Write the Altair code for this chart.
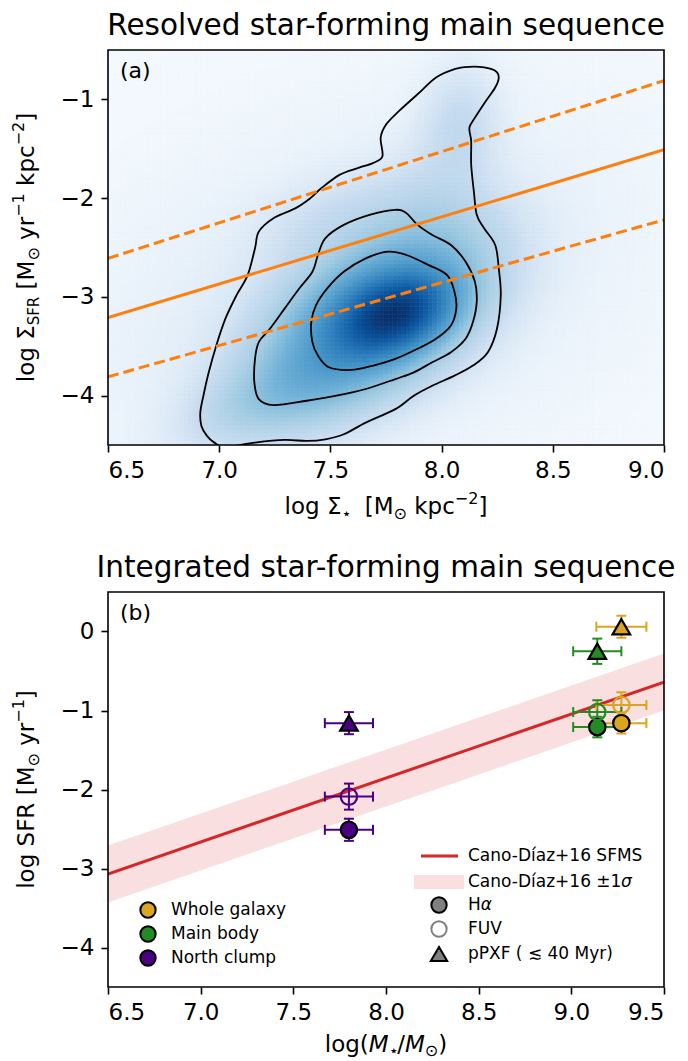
import altair as alt
import numpy as np
import pandas as pd

alt.data_transformers.disable_max_rows()

FONT = "DejaVu Sans"
W, H = 556, 395          # plot area of each panel (px)
GAP = 147                # vertical distance between the two plot areas
TICK_FS, TITLE_FS, LAB_FS, LEG_FS = 23, 29.5, 23, 17
XLAB_OFF = 66            # baseline of x-axis titles below the plot area

# ---------------------------------------------------------------------------
# Panel (a): resolved star-forming main sequence
# ---------------------------------------------------------------------------
# spaxel density described by tilted Gaussian components
comp_x = [7.80, 7.70, 7.35, 7.90, 8.08, 7.60, 7.08, 7.45]
comp_y = [-3.18, -3.20, -3.95, -2.20, -1.25, -3.00, -4.15, -2.25]
comp_sx = [0.16, 0.30, 0.22, 0.22, 0.12, 0.85, 0.20, 0.20]
comp_sy = [0.26, 0.52, 0.32, 0.40, 0.42, 1.30, 0.30, 0.30]
comp_rho = [0.30, 0.45, 0.30, 0.10, 0.10, 0.35, 0.50, 0.30]
comp_w = [0.55, 0.55, 0.12, 0.07, 0.08, 0.04, 0.06, 0.04]

# density contours (outer, middle, inner)
outer_x = [6.978, 7.028, 7.161, 7.294, 7.394, 7.477, 7.560, 7.659, 7.792, 7.875,
           7.958, 8.058, 8.141, 8.208, 8.249, 8.266, 8.257, 8.241, 8.191, 8.158,
           8.145, 8.133, 8.133, 8.125, 8.150, 8.199, 8.241, 8.257, 8.241, 8.191,
           8.125, 8.058, 7.975, 7.892, 7.809, 7.751, 7.726, 7.734, 7.693, 7.626,
           7.543, 7.460, 7.410, 7.344, 7.244, 7.178, 7.161, 7.128, 7.078, 7.028,
           6.987, 6.953, 6.929, 6.915, 6.920, 6.945]
outer_y = [-4.476, -4.52, -4.476, -4.449, -4.459, -4.442, -4.391, -4.273, -4.137, -4.001,
           -3.900, -3.798, -3.696, -3.560, -3.323, -2.983, -2.712, -2.475, -2.305, -2.169,
           -1.932, -1.660, -1.423, -1.287, -1.185, -1.016, -0.880, -0.778, -0.710, -0.676,
           -0.670, -0.693, -0.778, -0.948, -1.117, -1.253, -1.389, -1.575, -1.643, -1.694,
           -1.762, -1.898, -2.000, -2.101, -2.203, -2.339, -2.508, -2.780, -2.983, -3.221,
           -3.492, -3.764, -4.001, -4.171, -4.307, -4.408]
middle_x = [7.792, 7.842, 7.892, 7.958, 8.042, 8.108, 8.150, 8.158, 8.141, 8.108,
            8.042, 7.958, 7.875, 7.792, 7.659, 7.527, 7.394, 7.244, 7.178, 7.158,
            7.161, 7.178, 7.228, 7.294, 7.360, 7.419, 7.444, 7.477, 7.560, 7.676]
middle_y = [-2.118, -2.152, -2.271, -2.373, -2.475, -2.644, -2.848, -3.051, -3.255, -3.424,
            -3.560, -3.662, -3.764, -3.832, -3.933, -4.001, -4.052, -4.096, -4.035, -3.866,
            -3.628, -3.458, -3.323, -3.119, -2.916, -2.746, -2.576, -2.407, -2.271, -2.169]
inner_x = [7.759, 7.842, 7.942, 8.025, 8.058, 8.066, 8.042, 7.975, 7.892, 7.792,
           7.693, 7.593, 7.493, 7.444, 7.419, 7.414, 7.435, 7.485, 7.560, 7.659]
inner_y = [-2.542, -2.576, -2.678, -2.780, -2.950, -3.119, -3.289, -3.424, -3.526, -3.628,
           -3.696, -3.740, -3.713, -3.594, -3.458, -3.255, -3.085, -2.916, -2.746, -2.610]

# fitted resolved main sequence and its scatter
ms_x = [6.5, 9.0]
ms_fit = [-3.21, -1.51]
ms_upper = [-2.61, -0.81]
ms_lower = [-3.81, -2.22]

# ---------------------------------------------------------------------------
# Panel (b): integrated star-forming main sequence
# ---------------------------------------------------------------------------
regions = ["Whole galaxy", "Main body", "North clump"]
region_colors = ["#DAA520", "#228B22", "#4B0082"]
log_mass = [9.27, 9.14, 7.80]
log_mass_err = [0.135, 0.13, 0.13]
sfr_halpha = [-1.16, -1.21, -2.51]
sfr_halpha_err = [0.13, 0.13, 0.14]
sfr_fuv = [-0.93, -1.02, -2.09]
sfr_fuv_err = [0.16, 0.15, 0.165]
sfr_ppxf = [0.06, -0.25, -1.16]
sfr_ppxf_err = [0.14, 0.16, 0.14]

sfms_mass = [6.5, 9.5]
sfms_sfr = [-3.07, -0.64]
sfms_sigma = 0.36

# ---------------------------------------------------------------------------
# helpers
# ---------------------------------------------------------------------------
# DejaVu Sans advance widths (font units, 2048 per em) for text layout
GW = {" ": 651, "(": 799, ")": 799, "[": 799, "]": 799, "/": 690, "-": 739,
      "+": 1716, ".": 651, "a": 1255, "b": 1300, "c": 1126, "d": 1300, "e": 1260,
      "f": 721, "g": 1300, "h": 1298, "i": 569, "k": 1186, "l": 569, "m": 1995,
      "n": 1298, "o": 1253, "p": 1300, "q": 1300, "r": 842, "s": 1067, "t": 803,
      "u": 1298, "v": 1212, "w": 1675, "x": 1212, "y": 1212, "z": 1075,
      "A": 1401, "C": 1430, "D": 1577, "F": 1178, "H": 1540, "M": 1767,
      "P": 1235, "R": 1423, "S": 1300, "X": 1405, "Σ": 1294, "⊙": 1716,
      "⋆": 1100, "−": 1716, "±": 1716, "σ": 1233, "α": 1300, "≲": 1716, "í": 569}
for dgt in "0123456789":
    GW[dgt] = 1303


def text_w(s, size):
    return sum(GW.get(c, 1250) for c in s) / 2048.0 * size


def rich_text(pieces, x, y, angle=0, anchor="middle", baseline="alphabetic"):
    """Lay out (text, size, shift, italic) pieces one after another."""
    total = sum(text_w(t, s) for t, s, _, _ in pieces)
    pos = -total / 2 if anchor == "middle" else 0.0
    layers = []
    for t, s, shift, ital in pieces:
        lead = len(t) - len(t.lstrip(" "))
        pos += text_w(" " * lead, s)
        body = t.strip(" ")
        if body:
            if angle == 0:
                px, py = x + pos, y + shift
            else:
                px, py = x + shift, y - pos
            layers.append(
                alt.Chart(pd.DataFrame({"t": [body]}))
                .mark_text(align="left", baseline=baseline, angle=angle, font=FONT,
                           fontSize=s, fontStyle="italic" if ital else "normal",
                           color="black")
                .encode(x=alt.value(px), y=alt.value(py), text="t:N")
            )
        pos += text_w(t.lstrip(" "), s)
    return layers


def one_row():
    return pd.DataFrame({"k": [0]})


def frame():
    return alt.Chart(one_row()).mark_rect(fillOpacity=0, stroke="black", strokeWidth=1.6).encode(
        x=alt.value(0), x2=alt.value(W), y=alt.value(0), y2=alt.value(H))


def plain_text(txt, x, y, size, align="left", baseline="middle"):
    return alt.Chart(pd.DataFrame({"t": [txt]})).mark_text(
        align=align, baseline=baseline, font=FONT, fontSize=size, color="black"
    ).encode(x=alt.value(x), y=alt.value(y), text="t:N")


SUB, SUP = 5, -10
SMALL = 16

# ---------------------------------------------------------------------------
# panel (a) layers
# ---------------------------------------------------------------------------
NX, NY = 125, 100
xe = np.linspace(6.5, 9.0, NX + 1)
ye = np.linspace(-4.5, -0.5, NY + 1)
xc = 0.5 * (xe[:-1] + xe[1:])
yc = 0.5 * (ye[:-1] + ye[1:])
XX, YY = np.meshgrid(xc, yc)
dens = np.zeros_like(XX)
for cx, cy, sx, sy, r, w in zip(comp_x, comp_y, comp_sx, comp_sy, comp_rho, comp_w):
    u = (XX - cx) / sx
    v = (YY - cy) / sy
    q = (u * u + v * v - 2 * r * u * v) / (1 - r * r)
    dens += w * np.exp(-0.5 * q)
dens /= dens.max()
IX, IY = np.meshgrid(np.arange(NX), np.arange(NY))
grid = pd.DataFrame({
    "x0": np.round(xe[IX.ravel()], 4), "x1": np.round(xe[IX.ravel() + 1], 4),
    "y0": np.round(ye[IY.ravel()], 4), "y1": np.round(ye[IY.ravel() + 1], 4),
    "d": np.round(dens.ravel(), 4),
})

blues = ["#f7fbff", "#deebf7", "#c6dbef", "#9ecae1", "#6baed6",
         "#4292c6", "#2171b5", "#08519c", "#08306b"]
blues_stops = [-0.005, 0.035, 0.08, 0.18, 0.30, 0.45, 0.62, 0.80, 1.0]
dens_scale = alt.Scale(domain=blues_stops, range=blues, interpolate="rgb")

xs_a = alt.Scale(domain=[6.5, 9.0], nice=False, zero=False)
ys_a = alt.Scale(domain=[-4.5, -0.5], nice=False, zero=False)
xax_a = alt.Axis(values=[6.5, 7.0, 7.5, 8.0, 8.5, 9.0], format=".1f", title=None)
yax_a = alt.Axis(values=[-4, -3, -2, -1], format="d", title=None)


def XA(f):
    return alt.X(f, type="quantitative", scale=xs_a, axis=xax_a)


def YA(f):
    return alt.Y(f, type="quantitative", scale=ys_a, axis=yax_a)


heat = alt.Chart(grid).mark_rect(strokeWidth=0.6).encode(
    x=XA("x0"), x2="x1", y=YA("y0"), y2="y1",
    color=alt.Color("d:Q", scale=dens_scale, legend=None),
    stroke=alt.Stroke("d:Q", scale=dens_scale, legend=None),
)

cont_rows = []
for name, cx_, cy_ in [("outer", outer_x, outer_y), ("middle", middle_x, middle_y),
                       ("inner", inner_x, inner_y)]:
    for i, (a, b) in enumerate(zip(cx_, cy_)):
        cont_rows.append({"level": name, "i": i, "x": a, "y": b})
contours = alt.Chart(pd.DataFrame(cont_rows)).mark_line(
    color="black", strokeWidth=1.8, interpolate="cardinal-closed", clip=True
).encode(x=XA("x"), y=YA("y"), detail="level:N", order="i:Q")

ms_df = pd.DataFrame({
    "x": ms_x * 3,
    "y": ms_fit + ms_upper + ms_lower,
    "kind": ["fit"] * 2 + ["upper"] * 2 + ["lower"] * 2,
})
ms_solid = alt.Chart(ms_df).transform_filter("datum.kind == 'fit'").mark_line(
    color="#ff7f0e", strokeWidth=3, clip=True).encode(x=XA("x"), y=YA("y"))
ms_dash = alt.Chart(ms_df).transform_filter("datum.kind != 'fit'").mark_line(
    color="#ff7f0e", strokeWidth=3, strokeDash=[11, 5], clip=True).encode(
    x=XA("x"), y=YA("y"), detail="kind:N")

# white anchor fixing the page origin of the plot area
anchor = alt.Chart(one_row()).mark_rule(color="white", strokeWidth=1).encode(
    x=alt.value(-107.5), x2=alt.value(-100), y=alt.value(-49.5))

layers_a = [anchor, heat, contours, ms_solid, ms_dash, frame(),
            plain_text("(a)", 12, 21, 22),
            plain_text("Resolved star-forming main sequence", W / 2, -15, TITLE_FS,
                       align="center", baseline="alphabetic")]
layers_a += rich_text([("log Σ", LAB_FS, 0, False), ("⋆", SMALL, SUB, False),
                       ("  [M", LAB_FS, 0, False), ("⊙", SMALL, SUB, False),
                       (" kpc", LAB_FS, 0, False), ("−2", SMALL, SUP, False),
                       ("]", LAB_FS, 0, False)], W / 2, H + XLAB_OFF + 3)
layers_a += rich_text([("log Σ", LAB_FS, 0, False), ("SFR", 15, SUB, False),
                       (" [M", LAB_FS, 0, False), ("⊙", SMALL, SUB, False),
                       (" yr", LAB_FS, 0, False), ("−1", SMALL, SUP, False),
                       (" kpc", LAB_FS, 0, False), ("−2", SMALL, SUP, False),
                       ("]", LAB_FS, 0, False)], -74, H / 2, angle=270)
panel_a = alt.layer(*layers_a).properties(width=W, height=H)

# ---------------------------------------------------------------------------
# panel (b) layers
# ---------------------------------------------------------------------------
rows = []
for reg, m, me, ha, hae, fu, fue, pp, ppe in zip(
        regions, log_mass, log_mass_err, sfr_halpha, sfr_halpha_err,
        sfr_fuv, sfr_fuv_err, sfr_ppxf, sfr_ppxf_err):
    for tracer, s, se in [("Halpha", ha, hae), ("FUV", fu, fue), ("pPXF", pp, ppe)]:
        rows.append({"region": reg, "tracer": tracer, "m": m, "mlo": m - me, "mhi": m + me,
                     "s": s, "slo": s - se, "shi": s + se})
pts = pd.DataFrame(rows)

sfms = pd.DataFrame({"m": sfms_mass, "s": sfms_sfr,
                     "lo": [v - sfms_sigma for v in sfms_sfr],
                     "hi": [v + sfms_sigma for v in sfms_sfr]})

xs_b = alt.Scale(domain=[6.5, 9.5], nice=False, zero=False)
ys_b = alt.Scale(domain=[-4.5, 0.5], nice=False, zero=False)
xax_b = alt.Axis(values=[6.5, 7.0, 7.5, 8.0, 8.5, 9.0, 9.5], format=".1f", title=None)
yax_b = alt.Axis(values=[-4, -3, -2, -1, 0], format="d", title=None)
reg_scale = alt.Scale(domain=regions, range=region_colors)


def XB(f):
    return alt.X(f, type="quantitative", scale=xs_b, axis=xax_b)


def YB(f):
    return alt.Y(f, type="quantitative", scale=ys_b, axis=yax_b)


band = alt.Chart(sfms).mark_area(color="#d62728", opacity=0.15, clip=True).encode(
    x=XB("m"), y=YB("lo"), y2="hi")
sfms_line = alt.Chart(sfms).mark_line(color="#d62728", strokeWidth=3, clip=True).encode(
    x=XB("m"), y=YB("s"))

ebar_x = alt.Chart(pts).mark_rule(strokeWidth=2).encode(
    x=XB("mlo"), x2="mhi", y=YB("s"),
    color=alt.Color("region:N", scale=reg_scale, legend=None))
ebar_y = alt.Chart(pts).mark_rule(strokeWidth=2).encode(
    x=XB("m"), y=YB("slo"), y2="shi",
    color=alt.Color("region:N", scale=reg_scale, legend=None))
caps_x = alt.Chart(pts).transform_fold(["mlo", "mhi"], as_=["end", "xe"]).mark_tick(
    orient="vertical", size=10, thickness=2, opacity=1).encode(
    x=XB("xe"), y=YB("s"), color=alt.Color("region:N", scale=reg_scale, legend=None))
caps_y = alt.Chart(pts).transform_fold(["slo", "shi"], as_=["end", "ye"]).mark_tick(
    orient="horizontal", size=10, thickness=2, opacity=1).encode(
    x=XB("m"), y=YB("ye"), color=alt.Color("region:N", scale=reg_scale, legend=None))

mk_halpha = alt.Chart(pts).transform_filter("datum.tracer == 'Halpha'").mark_point(
    shape="circle", filled=True, size=270, stroke="black", strokeWidth=2.2, opacity=1).encode(
    x=XB("m"), y=YB("s"), fill=alt.Fill("region:N", scale=reg_scale, legend=None))
mk_fuv = alt.Chart(pts).transform_filter("datum.tracer == 'FUV'").mark_point(
    shape="circle", filled=False, size=270, strokeWidth=2.2, opacity=1).encode(
    x=XB("m"), y=YB("s"), stroke=alt.Stroke("region:N", scale=reg_scale, legend=None))
mk_ppxf = alt.Chart(pts).transform_filter("datum.tracer == 'pPXF'").mark_point(
    shape="triangle-up", filled=True, size=310, stroke="black", strokeWidth=2.2, opacity=1).encode(
    x=XB("m"), y=YB("s"), fill=alt.Fill("region:N", scale=reg_scale, legend=None))

# legends
leg = []
for k, (reg, col) in enumerate(zip(regions, region_colors)):
    yy = 318 + 24 * k
    leg.append(alt.Chart(one_row()).mark_point(
        shape="circle", filled=True, size=235, fill=col, stroke="black", strokeWidth=2,
        opacity=1).encode(x=alt.value(40), y=alt.value(yy)))
    leg.append(plain_text(reg, 63, yy, LEG_FS))

leg.append(alt.Chart(one_row()).mark_rule(color="#d62728", strokeWidth=3).encode(
    x=alt.value(313), x2=alt.value(350), y=alt.value(264)))
leg.append(alt.Chart(one_row()).mark_rect(color="#d62728", opacity=0.15).encode(
    x=alt.value(306), x2=alt.value(356), y=alt.value(283), y2=alt.value(297)))
leg.append(alt.Chart(one_row()).mark_point(
    shape="circle", filled=True, size=235, fill="#808080", stroke="black", strokeWidth=2,
    opacity=1).encode(x=alt.value(331), y=alt.value(313)))
leg.append(alt.Chart(one_row()).mark_point(
    shape="circle", filled=False, size=235, stroke="#808080", strokeWidth=2,
    opacity=1).encode(x=alt.value(331), y=alt.value(337)))
leg.append(alt.Chart(one_row()).mark_point(
    shape="triangle-up", filled=True, size=270, fill="#808080", stroke="black",
    strokeWidth=2, opacity=1).encode(x=alt.value(331), y=alt.value(362)))
leg.append(plain_text("Cano-Díaz+16 SFMS", 360, 264, LEG_FS))
leg += rich_text([("Cano-Díaz+16 ±1", LEG_FS, 0, False), ("σ", LEG_FS, 0, True)],
                 360, 290, anchor="left", baseline="middle")
leg += rich_text([("H", LEG_FS, 0, False), ("α", LEG_FS, 0, True)],
                 360, 313, anchor="left", baseline="middle")
leg.append(plain_text("FUV", 360, 337, LEG_FS))
leg.append(plain_text("pPXF ( ≲ 40 Myr)", 360, 362, LEG_FS))

layers_b = [band, sfms_line, ebar_x, ebar_y, caps_x, caps_y,
            mk_halpha, mk_fuv, mk_ppxf] + leg + [
    frame(), plain_text("(b)", 12, 21, 22),
    plain_text("Integrated star-forming main sequence", W / 2, -15, TITLE_FS,
               align="center", baseline="alphabetic")]
layers_b += rich_text([("log(", LAB_FS, 0, False), ("M", LAB_FS, 0, True),
                       ("⋆", SMALL, 4, False), ("/", LAB_FS, 0, False),
                       ("M", LAB_FS, 0, True), ("⊙", SMALL, 4, False),
                       (")", LAB_FS, 0, False)], W / 2, H + XLAB_OFF - 1)
layers_b += rich_text([("log SFR [M", LAB_FS, 0, False), ("⊙", SMALL, SUB, False),
                       (" yr", LAB_FS, 0, False), ("−1", SMALL, SUP, False),
                       ("]", LAB_FS, 0, False)], -74, H / 2, angle=270)
panel_b = alt.layer(*layers_b).properties(width=W, height=H)

chart = alt.vconcat(panel_a, panel_b, spacing=GAP, bounds="flush").properties(
    padding=0, background="white"
).configure_view(stroke=None).configure_axis(
    labelFont=FONT, labelFontSize=TICK_FS, labelColor="black", tickColor="black",
    tickWidth=1.6, tickSize=7, labelPadding=7, domain=False, grid=False,
)

chart.save("out.html", embed_options={"renderer": "svg", "actions": False})
